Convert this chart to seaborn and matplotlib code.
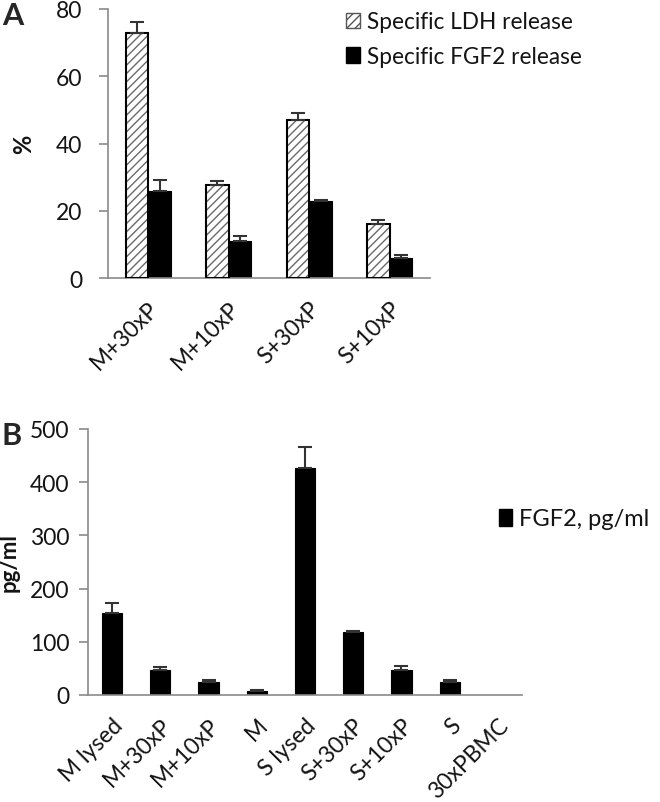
import matplotlib
matplotlib.use("Agg")
import matplotlib.pyplot as plt
from matplotlib.patches import Patch, Rectangle
import seaborn as sns
import pandas as pd
import numpy as np

# ---- data ----
a_categories = ["M+30xP", "M+10xP", "S+30xP", "S+10xP"]
a_series = ["Specific LDH release", "Specific FGF2 release"]
a_ldh = [73.0, 27.7, 47.0, 16.0]
a_ldh_err = [3.0, 1.0, 2.2, 1.3]
a_fgf2 = [26.0, 11.0, 23.0, 6.0]
a_fgf2_err = [3.2, 1.5, 0.3, 0.9]
a_yticks = [0, 20, 40, 60, 80]

b_categories = ["M lysed", "M+30xP", "M+10xP", "M", "S lysed",
                "S+30xP", "S+10xP", "S", "30xPBMC"]
b_values = [155, 47, 24, 8, 427, 118, 47, 24, 0]
b_err = [18, 5, 5, 2, 39, 2, 8, 5, 0]
b_yticks = [0, 100, 200, 300, 400, 500]
b_series = "FGF2, pg/ml"

sns.set_style("white")
plt.rcParams["font.family"] = ["Lato", "DejaVu Sans"]
plt.rcParams["hatch.linewidth"] = 1.0
TXT = "#141414"
SPINE = "#8a8a8a"
FS = 16

fig = plt.figure(figsize=(6.6, 8.03), dpi=100)
W, H = 660, 803

def ax_rect(l, r, b, t):
    return [l / W, 1 - b / H, (r - l) / W, (b - t) / H]

def style_axis(ax, n, ypad):
    ax.set_xlim(-0.5, n - 0.5)
    for s in ["top", "right"]:
        ax.spines[s].set_visible(False)
    for s in ["left", "bottom"]:
        ax.spines[s].set_color(SPINE)
        ax.spines[s].set_linewidth(1.2)
    ax.set_xticks(np.arange(n))
    ax.set_xticks(np.arange(n + 1) - 0.5, minor=True)
    ax.tick_params(axis="x", which="major", length=0, labelsize=FS + 0.5, colors=TXT, pad=14)
    ax.tick_params(axis="x", which="minor", length=5, width=1.2, color=SPINE, direction="out")
    ax.tick_params(axis="y", length=6.3, width=1.2, color=SPINE, direction="out",
                   labelsize=FS + 0.5, labelcolor=TXT, pad=ypad, left=True)
    for lab in ax.get_xticklabels():
        lab.set_rotation(45)
        lab.set_ha("right")
        lab.set_va("top")
        lab.set_rotation_mode("anchor")

def add_err(ax, bars, vals, errs, capw=5):
    sel = [i for i, e in enumerate(errs) if e > 0]
    xs = [bars[i].get_x() + bars[i].get_width() / 2 for i in sel]
    ys = [vals[i] for i in sel]
    es = [errs[i] for i in sel]
    ax.errorbar(xs, ys, yerr=[np.zeros(len(es)), es], fmt="none",
                ecolor="#333333", elinewidth=1.5, capsize=capw, capthick=1.5, zorder=4)

# ---- Panel A ----
axA = fig.add_axes(ax_rect(108, 430, 279, 10))
dfA = pd.DataFrame({
    "cat": a_categories * 2,
    "series": [a_series[0]] * 4 + [a_series[1]] * 4,
    "val": a_ldh + a_fgf2,
})
sns.barplot(data=dfA, x="cat", y="val", hue="series", order=a_categories,
            hue_order=a_series, palette=["white", "black"], width=0.56,
            errorbar=None, legend=False, ax=axA, saturation=1)
ldh_bars = axA.containers[0]
fgf_bars = axA.containers[1]
for p in ldh_bars:
    p.set_facecolor("white")
    p.set_edgecolor("#6a6a6a")
    p.set_hatch("////")
    p.set_linewidth(0)
    axA.add_patch(Rectangle((p.get_x(), p.get_y()), p.get_width(), p.get_height(),
                            fill=False, edgecolor="black", linewidth=1.5, zorder=3))
for p in fgf_bars:
    p.set_edgecolor("black")
    p.set_linewidth(0.8)

add_err(axA, ldh_bars, a_ldh, a_ldh_err)
add_err(axA, fgf_bars, a_fgf2, a_fgf2_err)
axA.set_ylim(0, 80)
axA.set_yticks(a_yticks)
axA.set_xlabel("")
style_axis(axA, len(a_categories), ypad=12)
axA.set_ylabel("%", fontsize=FS + 1, fontweight="bold", color=TXT)
axA.yaxis.set_label_coords(-0.225, 0.5)

handlesA = [Patch(facecolor="white", edgecolor="#555555", hatch="////", linewidth=1.0),
            Patch(facecolor="black", edgecolor="black")]
fig.legend(handlesA, a_series, loc="upper left", bbox_to_anchor=(326 / W, 1 + 8 / H),
           frameon=False, fontsize=FS + 0.3, handlelength=0.6, handleheight=0.7,
           handletextpad=0.3, labelspacing=0.6, labelcolor=TXT)

# ---- Panel B ----
axB = fig.add_axes(ax_rect(88, 522, 696, 430))
dfB = pd.DataFrame({"cat": b_categories, "val": b_values})
sns.barplot(data=dfB, x="cat", y="val", order=b_categories, color="black",
            width=0.42, errorbar=None, ax=axB, saturation=1)
bbars = axB.containers[0]
for p, v in zip(bbars, b_values):
    p.set_edgecolor("black")
    p.set_linewidth(0.8 if v > 0 else 0)
add_err(axB, bbars, b_values, b_err)
axB.set_ylim(0, 500)
axB.set_yticks(b_yticks)
axB.set_xlabel("")
style_axis(axB, len(b_categories), ypad=7)
axB.set_ylabel("pg/ml", fontsize=FS, fontweight="bold", color=TXT)
axB.yaxis.set_label_coords(-0.157, 0.5)

fig.legend([Patch(facecolor="black", edgecolor="black")], [b_series],
           loc="center left", bbox_to_anchor=(478 / W, 1 - 520 / H),
           frameon=False, fontsize=FS + 1, handlelength=0.55, handleheight=0.7,
           handletextpad=0.3, labelcolor=TXT)

fig.text(2 / W, 1 - 16 / H, "A", fontsize=FS + 6, fontweight="bold", va="center", ha="left")
fig.text(2 / W, 1 - 436 / H, "B", fontsize=FS + 6, fontweight="bold", va="center", ha="left")

fig.savefig("out.png", dpi=100)
